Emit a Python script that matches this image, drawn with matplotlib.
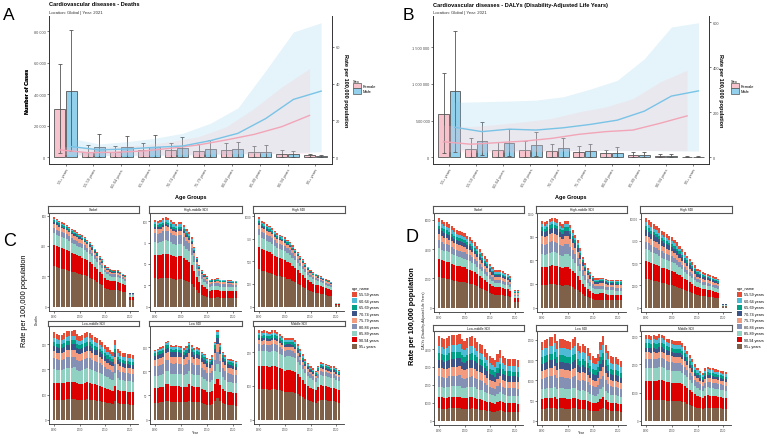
import numpy as np
import matplotlib
matplotlib.use('Agg')
import matplotlib.pyplot as plt
from matplotlib.patches import Patch

# ---- data: panels A / B (Global, 2021, by sex) ----
age_groups = ['55+ years', '55-59 years', '60-64 years', '65-69 years', '70-74 years',
              '75-79 years', '80-84 years', '85-89 years', '90-94 years', '95+ years']

deaths_f = [30300, 3400, 3400, 4400, 4400, 4200, 4600, 3400, 2300, 1300]
deaths_f_lo = [2900, 400, 400, 400, 400, 400, 400, 300, 200, 100]
deaths_f_hi = [59400, 7800, 7400, 9300, 9300, 8600, 9300, 7400, 4600, 2100]
deaths_m = [42100, 6700, 6700, 6700, 5900, 5500, 5000, 3600, 1900, 1000]
deaths_m_lo = [3800, 400, 400, 400, 400, 400, 400, 300, 200, 100]
deaths_m_hi = [80800, 14500, 13700, 13900, 13000, 10900, 9900, 7800, 4000, 1500]
deaths_rate_f = [4.0, 2.5, 2.7, 3.4, 4.9, 6.7, 9.4, 12.4, 16.6, 22.7]
deaths_rate_f_lo = [1.5, 1.0, 1.0, 1.2, 1.5, 1.8, 2.0, 2.0, 2.0, 2.0]
deaths_rate_f_hi = [5.8, 5.4, 5.8, 6.7, 8.5, 11.2, 16.6, 26.5, 38.2, 48.1]
deaths_rate_m = [5.8, 4.0, 4.5, 5.4, 6.1, 9.0, 13.0, 21.0, 31.4, 35.9]
deaths_rate_m_lo = [1.5, 1.0, 1.0, 1.0, 1.2, 1.5, 1.8, 2.0, 2.5, 3.0]
deaths_rate_m_hi = [10.3, 7.2, 8.5, 10.3, 13.0, 18.4, 26.8, 47.0, 68.0, 73.0]

dalys_f = [588000, 113000, 104000, 104000, 86000, 68000, 54000, 36000, 23000, 9000]
dalys_f_lo = [63000, 10000, 10000, 10000, 10000, 8000, 6000, 5000, 3000, 1000]
dalys_f_hi = [1149000, 258000, 213000, 226000, 186000, 149000, 100000, 72000, 45000, 18000]
dalys_m = [905000, 222000, 195000, 167000, 127000, 86000, 59000, 36000, 18000, 9000]
dalys_m_lo = [77000, 30000, 15000, 12000, 10000, 8000, 6000, 5000, 3000, 1000]
dalys_m_hi = [1720000, 484000, 389000, 339000, 258000, 186000, 136000, 77000, 41000, 16000]
dalys_rate_f = [69, 58, 65, 72, 84, 102, 114, 121, 151, 184]
dalys_rate_f_lo = [25, 22, 22, 24, 26, 28, 30, 30, 30, 30]
dalys_rate_f_hi = [143, 136, 146, 158, 173, 202, 224, 261, 335, 387]
dalys_rate_m = [133, 114, 125, 121, 131, 146, 165, 205, 272, 295]
dalys_rate_m_lo = [35, 30, 30, 30, 30, 30, 30, 30, 28, 28]
dalys_rate_m_hi = [244, 247, 250, 254, 269, 303, 342, 438, 579, 598]

# ---- data: panels C / D (rate per 100,000 by SDI region, 1990-2021) ----
years = np.arange(1990, 2022)
regions = ['Global', 'High-middle SDI', 'High SDI', 'Low-middle SDI', 'Low SDI', 'Middle SDI']
age_names = ['55-59 years', '60-64 years', '65-69 years', '70-74 years', '75-79 years',
             '80-84 years', '85-89 years', '90-94 years', '95+ years']
age_colors = ['#E64B35', '#4DBBD5', '#00A087', '#3C5488', '#F39B7F',
              '#8491B4', '#91D1C2', '#DC0000', '#7E6148']

# yearly totals (0 = year missing)
deaths_global = [588, 577, 566, 556, 549, 541, 528, 512, 502, 491, 480, 469, 458, 441, 426, 404,
                 383, 361, 333, 311, 275, 258, 246, 241, 241, 239, 228, 218, 207, 0, 91, 91]
deaths_hm = [101.5, 100.8, 101.5, 103.8, 104.6, 103.8, 101.5, 98.8, 96.9, 98.8, 98.8, 96.2, 91, 87.3,
             81.5, 70, 58.5, 48.8, 43, 38.5, 35.4, 31.5, 32.3, 32.3, 33, 31.5, 31.5, 31.5, 30.8,
             30.8, 30.4, 30.4]
deaths_high = [986, 949, 931, 913, 895, 870, 841, 812, 797, 783, 768, 739, 714, 678, 641, 605,
               558, 522, 478, 442, 406, 377, 362, 348, 333, 319, 304, 290, 275, 0, 43, 43]
deaths_lm = [348, 341, 339, 339, 344, 352, 354, 355, 356, 340, 333, 338, 345, 349, 347, 338,
             331, 327, 318, 309, 299, 288, 279, 271, 316, 281, 272, 267, 264, 263, 260, 257]
deaths_low = [145, 147, 150, 152, 162, 164, 154, 153, 154, 153, 152, 148, 152, 162, 154, 148,
              150, 148, 141, 136, 128, 126, 133, 162, 185, 159, 141, 133, 126, 125, 123, 121]
deaths_mid = [264, 262, 264, 262, 260, 264, 264, 260, 254, 248, 241, 243, 243, 241, 235, 223,
              208, 193, 178, 168, 158, 152, 145, 160, 170, 168, 166, 163, 158, 158, 153, 148]

dalys_global = [6160, 5980, 5870, 5820, 5710, 5550, 5410, 5320, 5210, 5140, 5070, 4920, 4800, 4640,
                4460, 4240, 4010, 3740, 3510, 3290, 2990, 2760, 2540, 2540, 2540, 2470, 2380, 2310,
                2150, 0, 1180, 1180]
dalys_hm = [1102, 1085, 1102, 1128, 1145, 1136, 1124, 1085, 1060, 1102, 1102, 1051, 987, 923, 860,
            753, 647, 562, 498, 447, 404, 370, 370, 379, 379, 362, 349, 349, 349, 345, 345, 345]
dalys_high = [10150, 9890, 9590, 9400, 9220, 8920, 8660, 8470, 8280, 8100, 7910, 7650, 7350, 6980,
              6600, 6230, 5860, 5490, 5110, 4740, 4370, 4180, 3990, 3920, 3810, 3690, 3540, 3400,
              3250, 0, 410, 410]
dalys_lm = [4700, 4640, 4550, 4590, 4700, 4770, 4770, 4790, 4820, 4550, 4460, 4590, 4680, 4700,
            4590, 4410, 4290, 4200, 4020, 3800, 3630, 3520, 3390, 3700, 3970, 3630, 3480, 3450,
            3450, 3430, 3430, 3390]
dalys_low = [1960, 2000, 2020, 2080, 2080, 2140, 1980, 2020, 2020, 2000, 1980, 1960, 2020, 2080,
             1920, 1860, 1900, 1860, 1800, 1680, 1600, 1560, 1660, 1960, 2100, 1880, 1720, 1600,
             1580, 1580, 1540, 1480]
dalys_mid = [3035, 3035, 3010, 3035, 3000, 3070, 3060, 3000, 2920, 2900, 2860, 2830, 2830, 2830,
             2750, 2640, 2490, 2330, 2180, 2000, 1890, 1780, 1700, 1860, 1910, 1890, 1870, 1830,
             1800, 1780, 1750, 1720]

# share of each age band (same order as age_names)
deaths_shares = [
    [0.015, 0.015, 0.02, 0.02, 0.05, 0.06, 0.13, 0.24, 0.45],
    [0.025, 0.025, 0.025, 0.025, 0.05, 0.105, 0.15, 0.27, 0.325],
    [0.02, 0.02, 0.02, 0.02, 0.05, 0.07, 0.13, 0.25, 0.42],
    [0.06, 0.05, 0.045, 0.06, 0.08, 0.12, 0.16, 0.195, 0.23],
    [0.02, 0.03, 0.04, 0.06, 0.09, 0.14, 0.17, 0.21, 0.24],
    [0.025, 0.025, 0.03, 0.03, 0.045, 0.075, 0.17, 0.26, 0.34],
]
dalys_shares = [
    [0.05, 0.04, 0.04, 0.055, 0.07, 0.085, 0.12, 0.20, 0.34],
    [0.04, 0.035, 0.04, 0.06, 0.09, 0.115, 0.15, 0.21, 0.26],
    [0.055, 0.04, 0.04, 0.065, 0.07, 0.08, 0.13, 0.20, 0.32],
    [0.115, 0.085, 0.075, 0.095, 0.105, 0.12, 0.125, 0.135, 0.145],
    [0.105, 0.095, 0.08, 0.09, 0.10, 0.135, 0.12, 0.125, 0.15],
    [0.045, 0.05, 0.05, 0.055, 0.075, 0.105, 0.15, 0.225, 0.245],
]
deaths_yticks = [[0, 200, 400, 600], [0, 25, 50, 75, 100], [0, 250, 500, 750, 1000],
                 [0, 100, 200, 300], [0, 50, 100, 150], [0, 100, 200]]
dalys_yticks = [[0, 2000, 4000, 6000], [0, 300, 600, 900, 1200], [0, 2500, 5000, 7500, 10000],
                [0, 1000, 2000, 3000, 4000], [0, 500, 1000, 1500, 2000], [0, 1000, 2000, 3000]]

plt.rcParams['font.family'] = ['Liberation Sans', 'DejaVu Sans']

W, H = 767, 439
fig = plt.figure(figsize=(W / 100, H / 100), dpi=100)

AXC = '#333333'
TXT = '#4D4D4D'
PINK = '#F7C3CD'
BLUE = '#93D0EC'


def add_box(x0, y0, x1, y1):
    # axes placed by pixel box (top-left origin)
    return fig.add_axes([x0 / W, 1 - y1 / H, (x1 - x0) / W, (y1 - y0) / H])


def space_fmt(v, pos=None):
    return f"{v:,.0f}".replace(",", " ")


def style_ticks(ax, size):
    ax.tick_params(length=1.6, width=0.45, color=AXC, labelsize=size, labelcolor=TXT, pad=1)


def sex_panel(x0, x1, k, cnt, rates, lticks, rticks, title, letter, letter_x, rlab_x, leg_x):
    f, f_lo, f_hi, m, m_lo, m_hi = [np.array(a, float) for a in cnt]
    rf, rf_lo, rf_hi, rm, rm_lo, rm_hi = [np.array(a, float) for a in rates]
    ax = add_box(x0, 17, x1, 165)
    x = np.arange(len(age_groups))
    d = 0.21
    ax.bar(x - d, f, 0.4, color=PINK, edgecolor='#555555', linewidth=0.6, zorder=2)
    ax.bar(x + d, m, 0.4, color=BLUE, edgecolor='#555555', linewidth=0.6, zorder=2)
    ax.errorbar(x - d, f, yerr=[f - f_lo, f_hi - f], fmt='none', ecolor='#555555',
                elinewidth=0.6, capsize=1.6, capthick=0.6, zorder=3)
    ax.errorbar(x + d, m, yerr=[m - m_lo, m_hi - m], fmt='none', ecolor='#555555',
                elinewidth=0.6, capsize=1.6, capthick=0.6, zorder=3)
    top = max(f_hi.max(), m_hi.max(), rf_hi.max() * k, rm_hi.max() * k)
    ax.set_ylim(-0.05 * top, 1.05 * top)
    ax.set_xlim(-0.6, len(x) - 0.4)
    ax.set_yticks(lticks)
    ax.yaxis.set_major_formatter(space_fmt)
    ax.set_xticks(x)
    ax.set_xticklabels(age_groups, rotation=60, ha='right', va='top', rotation_mode='anchor')
    style_ticks(ax, 2.8)
    for s in ['top', 'right']:
        ax.spines[s].set_visible(False)
    for s in ['left', 'bottom']:
        ax.spines[s].set_color(AXC)
        ax.spines[s].set_linewidth(0.7)

    ax2 = ax.twinx()
    ax2.set_ylim(-0.05 * top / k, 1.05 * top / k)
    ax2.fill_between(x + d, rm_lo, rm_hi, color='skyblue', alpha=0.22, linewidth=0)
    ax2.fill_between(x - d, rf_lo, rf_hi, color='pink', alpha=0.22, linewidth=0)
    ax2.plot(x - d, rf, color='#F2A5B7', linewidth=1.0)
    ax2.plot(x + d, rm, color='#79C3E6', linewidth=1.0)
    ax2.set_yticks(rticks)
    style_ticks(ax2, 2.8)
    for s in ['top', 'left', 'bottom']:
        ax2.spines[s].set_visible(False)
    ax2.spines['right'].set_color(AXC)
    ax2.spines['right'].set_linewidth(0.7)

    wpx = x1 - x0
    ax.set_xlabel('Age Groups', fontsize=4, fontweight='bold')
    ax.xaxis.set_label_coords(0.5, (165 - 195) / 148)
    ax.set_ylabel('Number of Cases', fontsize=4, fontweight='bold')
    ax.yaxis.set_label_coords((30 - x0) / wpx, 0.5)
    ax2.set_ylabel('Rate per 100,000 population', fontsize=4, fontweight='bold', rotation=270,
                   va='center')
    ax2.yaxis.set_label_coords((rlab_x - x0) / wpx, 0.5)

    fig.text(x0 / W, 1 - 5 / H, title, fontsize=4.1, fontweight='bold', va='center')
    fig.text(x0 / W, 1 - 13 / H, 'Location: Global | Year: 2021', fontsize=3.1, color='#333333',
             va='center')
    fig.text(letter_x / W, 1 - 16 / H, letter, fontsize=12.5, va='center')
    handles = [Patch(facecolor=PINK, edgecolor='#555555', linewidth=0.5, label='Female'),
               Patch(facecolor=BLUE, edgecolor='#555555', linewidth=0.5, label='Male')]
    fig.legend(handles=handles, title='Sex', loc='upper left', bbox_to_anchor=(leg_x / W, 1 - 80 / H),
               frameon=False, fontsize=2.9, title_fontsize=2.9, handlelength=2.0, handleheight=1.7,
               labelspacing=0.0, handletextpad=0.5, borderpad=0, borderaxespad=0, alignment='left')


def facet_panel(cols, rows, strip_rows, totals, shares, yticks, ylab, ylab_x, big_x, big_y,
                big_weight, letter, letter_xy, leg_x):
    for i, name in enumerate(regions):
        r, c = divmod(i, 3)
        x0, x1 = cols[c]
        y0, y1 = rows[r]
        ax = add_box(x0, y0, x1, y1)
        tot = np.array(totals[i], float)
        bottom = np.zeros(len(years))
        for j in range(len(age_names) - 1, -1, -1):
            h = tot * shares[i][j]
            ax.bar(years, h, 0.85, bottom=bottom, color=age_colors[j], linewidth=0)
            bottom += h
        ax.set_xlim(1989.55 - 1.6, 2021.45 + 1.6)
        ax.set_ylim(-0.05 * tot.max(), 1.05 * tot.max())
        ax.set_xticks([1990, 2000, 2010, 2020])
        ax.set_yticks(yticks[i])
        style_ticks(ax, 2.0)
        ax.tick_params(length=1.2, pad=0.8)
        for s in ['top', 'right']:
            ax.spines[s].set_visible(False)
        for s in ['left', 'bottom']:
            ax.spines[s].set_color(AXC)
            ax.spines[s].set_linewidth(0.6)
        sy0, sy1 = strip_rows[r]
        st = add_box(x0 - 1, sy0, x1 + 1, sy1)
        st.set_xticks([])
        st.set_yticks([])
        for s in st.spines.values():
            s.set_color('#555555')
            s.set_linewidth(0.8)
        st.text(0.5, 0.5, name, ha='center', va='center', fontsize=2.3, color='#1A1A1A')

    fig.text((cols[1][0] + cols[1][1]) / 2 / W, 1 - 433 / H, 'Year', fontsize=2.4, color='#1A1A1A',
             ha='center', va='center')
    fig.text(ylab_x / W, 1 - 320 / H, ylab, fontsize=2.4, color='#1A1A1A', rotation=90,
             ha='center', va='center')
    fig.text(big_x / W, 1 - big_y / H, 'Rate per 100,000 population', fontsize=5.3,
             fontweight=big_weight, rotation=90, ha='center', va='center')
    fig.text(letter_xy[0] / W, 1 - letter_xy[1] / H, letter, fontsize=13, va='center')
    handles = [Patch(facecolor=col, label=n) for n, col in zip(age_names, age_colors)]
    fig.legend(handles=handles, title='age_name', loc='upper left',
               bbox_to_anchor=(leg_x / W, 1 - 287 / H), frameon=False, fontsize=2.7,
               title_fontsize=2.7, handlelength=1.4, handleheight=1.6, labelspacing=0.45,
               handletextpad=0.5, borderpad=0, borderaxespad=0, alignment='left')


sex_panel(49, 332, 1168,
          [deaths_f, deaths_f_lo, deaths_f_hi, deaths_m, deaths_m_lo, deaths_m_hi],
          [deaths_rate_f, deaths_rate_f_lo, deaths_rate_f_hi,
           deaths_rate_m, deaths_rate_m_lo, deaths_rate_m_hi],
          [0, 20000, 40000, 60000, 80000], [0, 20, 40, 60],
          'Cardiovascular diseases - Deaths', 'A', 3, 345, 353)

sex_panel(433, 709, 3066,
          [dalys_f, dalys_f_lo, dalys_f_hi, dalys_m, dalys_m_lo, dalys_m_hi],
          [dalys_rate_f, dalys_rate_f_lo, dalys_rate_f_hi,
           dalys_rate_m, dalys_rate_m_lo, dalys_rate_m_hi],
          [0, 500000, 1000000, 1500000], [0, 200, 400, 600],
          'Cardiovascular diseases - DALYs (Disability-Adjusted Life Years)', 'B', 403, 721, 731)

facet_panel([(49, 138), (150, 241), (254, 344)], [(214, 312), (327, 425)],
            [(207, 213.5), (321.5, 327)],
            [deaths_global, deaths_hm, deaths_high, deaths_lm, deaths_low, deaths_mid],
            deaths_shares, deaths_yticks, 'Deaths', 37, 25, 301, 'normal', 'C', (3, 242), 352)

facet_panel([(434, 523), (537, 626), (641, 731)], [(214, 313), (331, 426)],
            [(207, 213.5), (326, 331.5)],
            [dalys_global, dalys_hm, dalys_high, dalys_lm, dalys_low, dalys_mid],
            dalys_shares, dalys_yticks, 'DALYs (Disability-Adjusted Life Years)', 424, 413, 316,
            'bold', 'D', (406, 238), 737)

fig.savefig('out.png', dpi=100)
